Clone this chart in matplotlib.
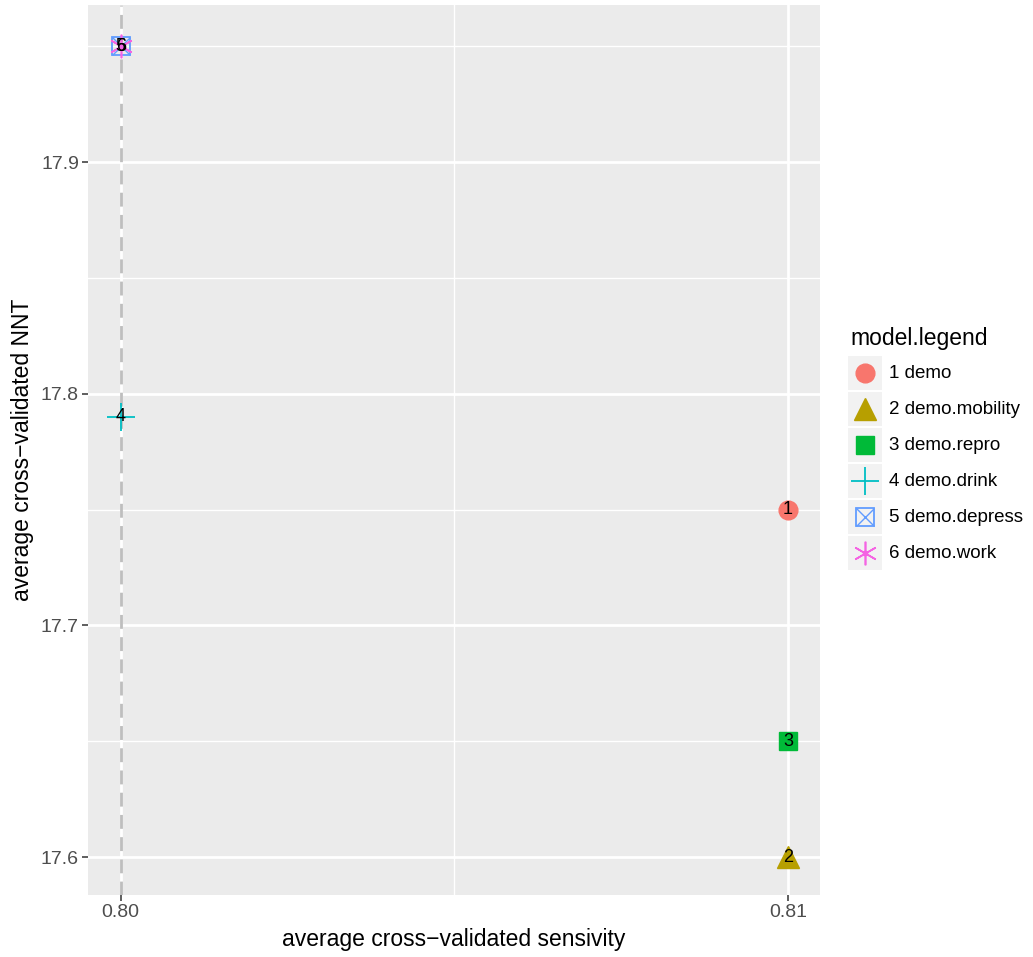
import matplotlib
matplotlib.use("Agg")
import matplotlib.pyplot as plt

plt.rcParams['font.family'] = ['Liberation Sans', 'DejaVu Sans']

labels = ["1", "2", "3", "4", "5", "6"]
models = ["1 demo", "2 demo.mobility", "3 demo.repro", "4 demo.drink", "5 demo.depress", "6 demo.work"]
sens = [0.81, 0.81, 0.81, 0.80, 0.80, 0.80]
nnt = [17.75, 17.60, 17.65, 17.79, 17.95, 17.95]
colors = ["#F8766D", "#B79F00", "#00BA38", "#00BFC4", "#619CFF", "#F564E3"]
markers = ["o", "^", "s", "+", "boxx", "*"]
x_ticks = [0.80, 0.81]
x_tick_labels = ["0.80", "0.81"]
y_ticks = [17.6, 17.7, 17.8, 17.9]
y_tick_labels = ["17.6", "17.7", "17.8", "17.9"]
ref_x = 0.80

W, H = 1033, 957
fig = plt.figure(figsize=(W / 100, H / 100), dpi=100)
ax = fig.add_axes([88 / W, 1 - 895 / H, (820 - 88) / W, (895 - 5) / H])
ax.set_facecolor("#EBEBEB")
for s in ax.spines.values():
    s.set_visible(False)

ax.set_xlim(0.79951, 0.81048)
ax.set_ylim(17.5836, 17.9678)

# grid
for v in [0.805]:
    ax.axvline(v, color="white", lw=1.0, zorder=0.5)
for v in [17.65, 17.75, 17.85, 17.95]:
    ax.axhline(v, color="white", lw=1.0, zorder=0.5)
for v in x_ticks:
    ax.axvline(v, color="white", lw=2.0, zorder=0.6)
for v in y_ticks:
    ax.axhline(v, color="white", lw=2.0, zorder=0.6)

ax.axvline(ref_x, color="#BEBEBE", lw=2.0, ls=(0, (5, 3)), zorder=1)

sizes = {"o": 13.5, "^": 16, "s": 12.5, "+": 20, "*": 17}
mew = {"o": 1, "^": 1, "s": 1, "+": 1.3, "*": 1.2}

def draw_marker(a, x, y, m, c, **kw):
    if m == "*":
        a.plot([x], [y], marker=(6, 2, 0), color=c, ms=sizes[m], mew=mew[m], ls="none", **kw)
        a.plot([x], [y], marker="o", color=c, ms=3, ls="none", **kw)
    elif m == "boxx":
        a.plot([x], [y], marker="s", mfc="none", mec=c, ms=13, mew=1.3, ls="none", **kw)
        a.plot([x], [y], marker="x", color=c, ms=13, mew=1.0, ls="none", **kw)
    else:
        a.plot([x], [y], marker=m, color=c, ms=sizes[m], mew=mew[m], ls="none", **kw)

for i in range(len(labels)):
    draw_marker(ax, sens[i], nnt[i], markers[i], colors[i], zorder=3)
for i in range(len(labels)):
    ax.text(sens[i], nnt[i], labels[i], ha="center", va="center", fontsize=13, color="black", zorder=4)

ax.set_xticks(x_ticks)
ax.set_xticklabels(x_tick_labels)
ax.set_yticks(y_ticks)
ax.set_yticklabels(y_tick_labels)
ax.tick_params(axis="both", colors="#333333", labelcolor="#4D4D4D", labelsize=14, length=4, width=1.1, pad=2.5)
ax.set_xlabel("average cross\u2212validated sensivity", fontsize=16.5, labelpad=5)
ax.set_ylabel("average cross\u2212validated NNT", fontsize=16.5, labelpad=5)

# legend
fig.text(850 / W, 1 - 338 / H, "model.legend", fontsize=16.5, ha="left", va="center")
key_w, key_h = 34, 34
for i in range(len(models)):
    cy = 373 + 36 * i
    kax = fig.add_axes([848 / W, 1 - (cy + key_h / 2) / H, key_w / W, key_h / H])
    kax.set_facecolor("#F2F2F2")
    kax.set_xlim(0, 1)
    kax.set_ylim(0, 1)
    kax.set_xticks([])
    kax.set_yticks([])
    for s in kax.spines.values():
        s.set_visible(False)
    draw_marker(kax, 0.5, 0.5, markers[i], colors[i])
    fig.text(889 / W, 1 - cy / H, models[i], fontsize=13.5, ha="left", va="center")

fig.savefig("out.png", dpi=100)
